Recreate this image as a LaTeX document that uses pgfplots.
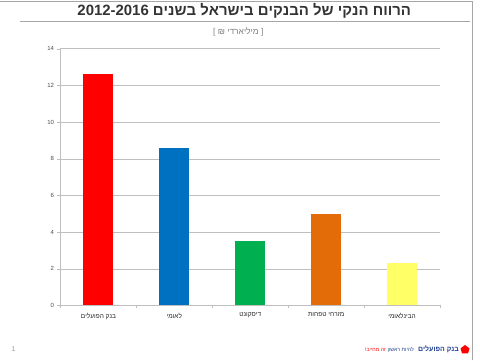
\documentclass[border=0pt]{standalone}
\usepackage{fontspec}
\usepackage{pgfplots}
\pgfplotsset{compat=1.18}
\setmainfont{Liberation Sans}
\TeXXeTstate=1
\definecolor{cred}{HTML}{FF0000}
\definecolor{cblue}{HTML}{0070C0}
\definecolor{cgreen}{HTML}{00B050}
\definecolor{corange}{HTML}{E36C09}
\definecolor{cyellow}{HTML}{FFFF66}
\definecolor{gridc}{HTML}{BFBFBF}
\definecolor{logoblue}{HTML}{1F3F8F}
\begin{document}
\begin{tikzpicture}[x=1bp,y=1bp]
\path (0,0) rectangle (480,360);
% slide borders
\draw[gray!70, line width=1bp] (0,359.5) -- (472,359.5);
\draw[gray!70, line width=0.8bp] (472,0) -- (472,360);
% title
\node[font=\fontsize{15}{17}\selectfont\bfseries, text=black!80] at (244,350) {\beginR הרווח הנקי של הבנקים בישראל בשנים \beginL2012-2016\endL\endR};
\draw[gray!70, line width=0.6bp] (20,339) -- (470,339);
\node[font=\fontsize{8.5}{10}\selectfont, text=gray] at (238,329) {[ \beginR מיליארדי ₪\endR{} ]};
% footer
\node[font=\fontsize{7}{8}\selectfont, text=gray!80] at (13,11) {1};
\fill[cred] (465,15.5) -- (469.5,12) -- (468,7) -- (462,7) -- (460.5,12) -- cycle;
\node[anchor=east, inner sep=0pt, font=\fontsize{7}{8}\selectfont\bfseries, text=logoblue] at (459,11) {\beginR בנק הפועלים\endR};
\node[anchor=east, inner sep=0pt, font=\fontsize{5.2}{6}\selectfont, text=logoblue] (slA) at (414,11) {\beginR להיות ראשון\endR};
\node[anchor=east, inner sep=0pt, font=\fontsize{5.2}{6}\selectfont, text=cred] at ([xshift=-1.5bp]slA.west) {\beginR זה מחייב!\endR};
\begin{axis}[
  at={(60bp,55bp)}, anchor=south west,
  scale only axis, width=380bp, height=257bp,
  xmin=-0.5, xmax=4.5, ymin=0, ymax=14,
  ytick={0,2,...,14},
  xtick={0,1,2,3,4},
  xticklabels={{\beginR בנק הפועלים\endR},{\beginR לאומי\endR},{\beginR דיסקונט\endR},{\beginR מזרחי טפחות\endR},{\beginR הבינלאומי\endR}},
  minor xtick={-0.5,0.5,1.5,2.5,3.5,4.5},
  major x tick style={draw=none},
  minor tick length=3bp,
  major tick length=3bp,
  tick align=outside,
  tick style={gridc},
  axis x line*=bottom, axis y line*=left,
  axis line style={gridc,-},
  ymajorgrids, grid style={gridc, line width=0.5bp},
  /pgf/number format/assume math mode=true,
  yticklabel style={font=\fontsize{6}{7}\selectfont, text=black!70},
  xticklabel style={font=\fontsize{6.5}{7}\selectfont, text=black!85, yshift=-1bp},
]
\addplot[ybar, bar width=30bp, bar shift=0pt, fill=cred, draw=none] coordinates {(0,12.6)};
\addplot[ybar, bar width=30bp, bar shift=0pt, fill=cblue, draw=none] coordinates {(1,8.6)};
\addplot[ybar, bar width=30bp, bar shift=0pt, fill=cgreen, draw=none] coordinates {(2,3.5)};
\addplot[ybar, bar width=30bp, bar shift=0pt, fill=corange, draw=none] coordinates {(3,5.0)};
\addplot[ybar, bar width=30bp, bar shift=0pt, fill=cyellow, draw=none] coordinates {(4,2.3)};
\end{axis}
\end{tikzpicture}
\end{document}
